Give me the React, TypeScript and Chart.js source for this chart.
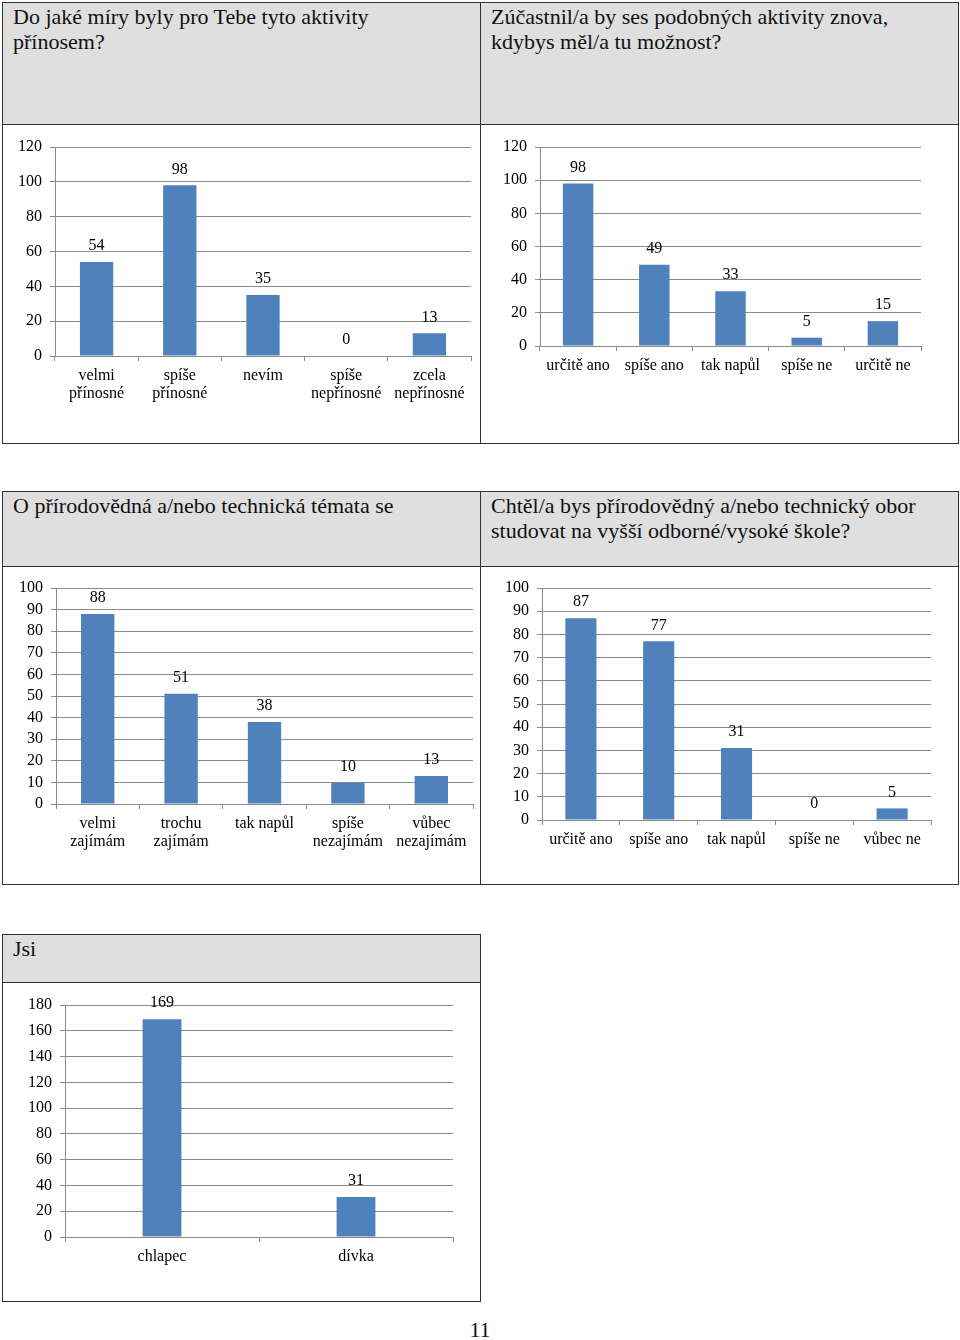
import React, { useEffect, useRef } from 'react';
import { Chart, registerables } from 'chart.js';

Chart.register(...registerables);

// ---- data ----
const benefitLabels: (string | string[])[] = [['velmi', 'přínosné'], ['spíše', 'přínosné'], 'nevím', ['spíše', 'nepřínosné'], ['zcela', 'nepřínosné']];
const benefitValues = [54, 98, 35, 0, 13];
const benefitTicks = { max: 120, step: 20 };

const repeatLabels = ['určitě ano', 'spíše ano', 'tak napůl', 'spíše ne', 'určitě ne'];
const repeatValues = [98, 49, 33, 5, 15];
const repeatTicks = { max: 120, step: 20 };

const interestLabels: (string | string[])[] = [['velmi', 'zajímám'], ['trochu', 'zajímám'], 'tak napůl', ['spíše', 'nezajímám'], ['vůbec', 'nezajímám']];
const interestValues = [88, 51, 38, 10, 13];
const interestTicks = { max: 100, step: 10 };

const studyLabels = ['určitě ano', 'spíše ano', 'tak napůl', 'spíše ne', 'vůbec ne'];
const studyValues = [87, 77, 31, 0, 5];
const studyTicks = { max: 100, step: 10 };

const genderLabels = ['chlapec', 'dívka'];
const genderValues = [169, 31];
const genderTicks = { max: 180, step: 20 };

// ---- styles ----
const FONT = "'Liberation Serif', 'Times New Roman', serif";
const GRID = '#8a8a8a';
const BAR = '#4f81bd';
const LINE = '#333333';
const HEAD_BG = '#dfdfdf';

Chart.defaults.font.family = FONT;

const valueLabelPlugin = {
  id: 'valueLabels',
  afterDatasetsDraw(chart: any) {
    const ctx = chart.ctx;
    const meta = chart.getDatasetMeta(0);
    const data = chart.data.datasets[0].data;
    ctx.save();
    ctx.font = `16px ${FONT}`;
    ctx.fillStyle = '#000';
    ctx.textAlign = 'center';
    ctx.textBaseline = 'middle';
    meta.data.forEach((el: any, i: number) => {
      ctx.fillText(String(data[i]), el.x, el.y - 16);
    });
    ctx.restore();
  },
};

type Box = { x: number; y: number; w: number; h: number };

function BarChart(props: {
  labels: (string | string[])[];
  values: number[];
  ticks: { max: number; step: number };
  barPct: number;
  box: Box;
  yWidth: number;
  xHeight: number;
  padTop: number;
  padRight: number;
}) {
  const ref = useRef<HTMLCanvasElement>(null);
  const { labels, values, ticks, barPct, box, yWidth, xHeight, padTop, padRight } = props;
  useEffect(() => {
    const chart = new Chart(ref.current as HTMLCanvasElement, {
      type: 'bar',
      data: {
        labels,
        datasets: [
          {
            data: values,
            backgroundColor: BAR,
            borderWidth: 0,
            barPercentage: barPct,
            categoryPercentage: 1,
          },
        ],
      },
      options: {
        animation: false,
        responsive: false,
        maintainAspectRatio: false,
        layout: { padding: { top: padTop, right: padRight, left: 0, bottom: 0 } },
        plugins: {
          legend: { display: false },
          tooltip: { enabled: false },
          title: { display: false },
        },
        scales: {
          x: {
            offset: true,
            grid: {
              display: true,
              drawOnChartArea: false,
              drawTicks: true,
              tickLength: 5,
              color: GRID,
              offset: true,
            },
            border: { display: true, color: GRID },
            ticks: {
              color: '#000',
              font: { family: FONT, size: 16, lineHeight: 1.1 },
              padding: 6,
              autoSkip: false,
              maxRotation: 0,
              minRotation: 0,
            },
            afterFit: (s: any) => {
              s.height = xHeight;
            },
          },
          y: {
            min: 0,
            max: ticks.max,
            ticks: {
              stepSize: ticks.step,
              autoSkip: false,
              color: '#000',
              font: { family: FONT, size: 16 },
              padding: 8,
            },
            grid: { color: GRID, tickLength: 5, drawTicks: true },
            border: { display: true, color: GRID },
            afterFit: (s: any) => {
              s.width = yWidth;
            },
          },
        },
      } as any,
      plugins: [valueLabelPlugin],
    });
    return () => chart.destroy();
  }, []);
  return (
    <canvas
      ref={ref}
      width={box.w}
      height={box.h}
      style={{ position: 'absolute', left: box.x, top: box.y, width: box.w, height: box.h }}
    />
  );
}

function HLine({ x, y, w }: { x: number; y: number; w: number }) {
  return <div style={{ position: 'absolute', left: x, top: y, width: w, height: 1, background: LINE }} />;
}
function VLine({ x, y, h }: { x: number; y: number; h: number }) {
  return <div style={{ position: 'absolute', left: x, top: y, width: 1, height: h, background: LINE }} />;
}
function Head({ x, y, w, h, children }: { x: number; y: number; w: number; h: number; children: React.ReactNode }) {
  return (
    <div style={{ position: 'absolute', left: x, top: y, width: w, height: h, background: HEAD_BG }}>
      <div
        style={{
          position: 'absolute',
          left: 10,
          top: 1,
          fontFamily: FONT,
          fontSize: 22,
          lineHeight: '25px',
          color: '#111',
          whiteSpace: 'nowrap',
        }}
      >
        {children}
      </div>
    </div>
  );
}

export default function App() {
  return (
    <div style={{ position: 'absolute', left: 0, top: 0, width: 960, height: 1340, background: '#fff' }}>
      {/* Table 1 */}
      <Head x={3} y={3} w={477} h={121}>
        Do jaké míry byly pro Tebe tyto aktivity
        <br />
        přínosem?
      </Head>
      <Head x={481} y={3} w={477} h={121}>
        Zúčastnil/a by ses podobných aktivity znova,
        <br />
        kdybys měl/a tu možnost?
      </Head>
      <HLine x={2} y={2} w={957} />
      <HLine x={2} y={124} w={957} />
      <HLine x={2} y={443} w={957} />
      <VLine x={2} y={2} h={442} />
      <VLine x={480} y={2} h={442} />
      <VLine x={958} y={2} h={442} />
      <BarChart labels={benefitLabels} values={benefitValues} ticks={benefitTicks} barPct={0.4}
        box={{ x: 3, y: 125, w: 477, h: 318 }} yWidth={52} xHeight={87} padTop={22} padRight={9} />
      <BarChart labels={repeatLabels} values={repeatValues} ticks={repeatTicks} barPct={0.4}
        box={{ x: 481, y: 125, w: 477, h: 318 }} yWidth={59} xHeight={97} padTop={22} padRight={37} />

      {/* Table 2 */}
      <Head x={3} y={492} w={477} h={74}>
        O přírodovědná a/nebo technická témata se
      </Head>
      <Head x={481} y={492} w={477} h={74}>
        Chtěl/a bys přírodovědný a/nebo technický obor
        <br />
        studovat na vyšší odborné/vysoké škole?
      </Head>
      <HLine x={2} y={491} w={957} />
      <HLine x={2} y={566} w={957} />
      <HLine x={2} y={884} w={957} />
      <VLine x={2} y={491} h={394} />
      <VLine x={480} y={491} h={394} />
      <VLine x={958} y={491} h={394} />
      <BarChart labels={interestLabels} values={interestValues} ticks={interestTicks} barPct={0.4}
        box={{ x: 3, y: 567, w: 477, h: 317 }} yWidth={53} xHeight={80} padTop={21} padRight={7} />
      <BarChart labels={studyLabels} values={studyValues} ticks={studyTicks} barPct={0.4}
        box={{ x: 481, y: 567, w: 477, h: 317 }} yWidth={61} xHeight={64} padTop={21} padRight={27} />

      {/* Table 3 */}
      <Head x={3} y={935} w={477} h={47}>
        Jsi
      </Head>
      <HLine x={2} y={934} w={479} />
      <HLine x={2} y={982} w={479} />
      <HLine x={2} y={1301} w={479} />
      <VLine x={2} y={934} h={368} />
      <VLine x={480} y={934} h={368} />
      <BarChart labels={genderLabels} values={genderValues} ticks={genderTicks} barPct={0.2}
        box={{ x: 3, y: 983, w: 477, h: 318 }} yWidth={62} xHeight={64} padTop={22} padRight={27} />

      <div
        style={{
          position: 'absolute',
          left: 430,
          width: 100,
          top: 1317,
          textAlign: 'center',
          fontFamily: FONT,
          fontSize: 22,
          lineHeight: '26px',
          color: '#111',
        }}
      >
        11
      </div>
    </div>
  );
}
